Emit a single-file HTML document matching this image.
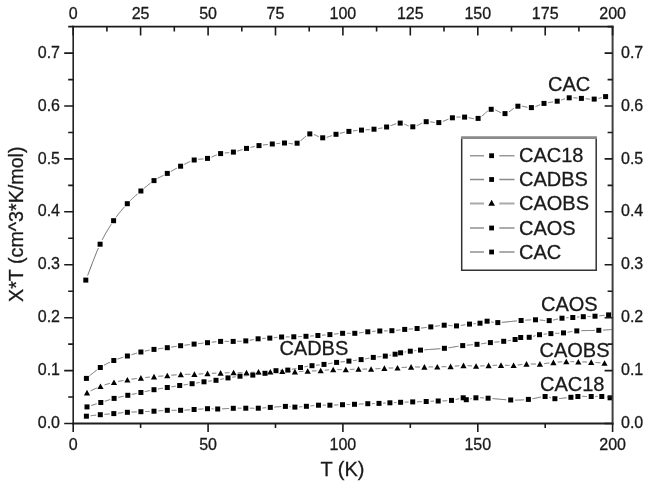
<!DOCTYPE html><html><head><meta charset="utf-8"><style>html,body{margin:0;padding:0;background:#fff;}svg{display:block;will-change:transform;}text{font-family:"Liberation Sans",sans-serif;fill:#1a1a1a;stroke:#1a1a1a;stroke-width:0.3px;}</style></head><body>
<svg width="650" height="488" viewBox="0 0 650 488">
<rect x="0" y="0" width="650" height="488" fill="#fff"/>
<g fill="none" stroke="#626262" stroke-width="1">
<path d="M87.6 275.5L88.0 274.6L88.3 273.7L88.7 272.7L89.0 271.8L89.4 270.8L89.8 269.9L90.1 268.9L90.5 268.0L90.8 267.0L91.2 266.1L91.6 265.1L91.9 264.2L92.3 263.3L92.6 262.3L93.0 261.4L93.4 260.4L93.7 259.5L94.1 258.6L94.4 257.7L94.8 256.8L95.2 255.8L95.5 254.9L95.9 254.1L96.2 253.2L96.6 252.3L96.9 251.4L97.3 250.6L97.6 249.7L98.0 248.9L98.4 248.1M102.2 239.9L102.5 239.3L102.8 238.6L103.2 237.9L103.5 237.3L103.9 236.7L104.2 236.0L104.5 235.4L104.9 234.8L105.2 234.2L105.5 233.6L105.9 233.0L106.2 232.4L106.6 231.8L106.9 231.3L107.2 230.7L107.6 230.1L107.9 229.6L108.2 229.0L108.6 228.5L108.9 228.0L109.2 227.4L109.6 226.9L109.9 226.4L110.2 225.8L110.6 225.3L110.9 224.8L111.2 224.3M116.0 217.3L116.3 216.8L116.7 216.4L117.0 215.9L117.4 215.4L117.7 215.0L118.0 214.5L118.4 214.1L118.7 213.7L119.1 213.2L119.4 212.8L119.8 212.4L120.1 211.9L120.4 211.5L120.8 211.1L121.1 210.7L121.5 210.3L121.8 209.9L122.2 209.5L122.5 209.1L122.8 208.7L123.2 208.3L123.5 207.9L123.9 207.5L124.2 207.1L124.6 206.7M130.4 200.5L130.7 200.2L131.1 199.8L131.4 199.5L131.7 199.2L132.1 198.8L132.4 198.5L132.8 198.2L133.1 197.9L133.5 197.6L133.8 197.2L134.1 196.9L134.5 196.6L134.8 196.3L135.2 196.0L135.5 195.7L135.8 195.4L136.2 195.1L136.5 194.8L136.9 194.5L137.2 194.2L137.5 193.9M144.2 188.2L144.5 187.9L144.9 187.6L145.2 187.3L145.5 187.1L145.8 186.8L146.2 186.5L146.5 186.3L146.8 186.0L147.1 185.7L147.5 185.5L147.8 185.2L148.1 184.9L148.4 184.7L148.8 184.4L149.1 184.2L149.4 183.9L149.7 183.7L150.1 183.4L150.4 183.2L150.7 182.9M157.6 178.4L158.0 178.2L158.3 178.0L158.6 177.8L159.0 177.7L159.3 177.5L159.6 177.3L160.0 177.1L160.3 177.0L160.6 176.8L161.0 176.6L161.3 176.5L161.6 176.3L162.0 176.1L162.3 176.0L162.6 175.8L163.0 175.6L163.3 175.5L163.6 175.3M170.9 171.4L171.3 171.2L171.6 171.0L171.9 170.8L172.3 170.7L172.6 170.5L172.9 170.3L173.3 170.1L173.6 169.9L173.9 169.7L174.3 169.6L174.6 169.4L174.9 169.2L175.3 169.0L175.6 168.8L175.9 168.6L176.3 168.5L176.6 168.3L176.9 168.1M184.3 164.3L184.7 164.1L185.0 163.9L185.3 163.8L185.7 163.6L186.0 163.4L186.4 163.3L186.7 163.1L187.1 162.9L187.4 162.8L187.7 162.6L188.1 162.4L188.4 162.3L188.8 162.1L189.1 161.9L189.5 161.8L189.8 161.6L190.1 161.5M198.2 159.3L198.6 159.3L198.9 159.2L199.2 159.2L199.6 159.2L199.9 159.2L200.2 159.1L200.5 159.1L200.9 159.1L201.2 159.1L201.5 159.1L201.9 159.1L202.2 159.0L202.5 159.0L202.9 159.0L203.2 159.0L203.5 159.0M211.5 157.1L211.8 157.0L212.1 156.8L212.4 156.7L212.8 156.6L213.1 156.4L213.4 156.3L213.8 156.1L214.1 156.0L214.4 155.9L214.7 155.7L215.1 155.6L215.4 155.4L215.7 155.3L216.0 155.2L216.4 155.0L216.7 154.9M224.8 152.9L225.1 152.9L225.4 152.9L225.7 152.9L226.0 152.8L226.4 152.8L226.7 152.8L227.0 152.8L227.3 152.8L227.6 152.7L228.0 152.7L228.3 152.7L228.6 152.7L228.9 152.7L229.2 152.6M237.3 151.1L237.7 151.0L238.0 150.9L238.3 150.8L238.6 150.7L239.0 150.6L239.3 150.5L239.6 150.4L240.0 150.3L240.3 150.2L240.6 150.1L241.0 150.0L241.3 149.9L241.6 149.8L241.9 149.7L242.3 149.6L242.6 149.5M250.6 147.4L250.9 147.3L251.2 147.2L251.5 147.2L251.8 147.1L252.1 147.0L252.4 146.9L252.7 146.9L253.0 146.8L253.4 146.7L253.7 146.7L254.0 146.6L254.3 146.5L254.6 146.5L254.9 146.4M263.0 145.0L263.3 145.0L263.6 144.9L264.0 144.9L264.3 144.8L264.7 144.8L265.0 144.8L265.3 144.7L265.7 144.7L266.0 144.6L266.3 144.6L266.7 144.6L267.0 144.5L267.4 144.5L267.7 144.5L268.0 144.4M276.3 143.6L276.6 143.6L276.9 143.5L277.2 143.5L277.5 143.5L277.8 143.4L278.1 143.4L278.4 143.4L278.7 143.4L279.0 143.3L279.3 143.3L279.6 143.3L279.9 143.3L280.2 143.2M288.6 143.3L288.9 143.4L289.2 143.4L289.5 143.4L289.8 143.5L290.1 143.5L290.5 143.6L290.8 143.6L291.1 143.7L291.4 143.7L291.7 143.7L292.0 143.7L292.4 143.8L292.7 143.8L293.0 143.8M300.6 141.0L300.9 140.7L301.2 140.4L301.5 140.1L301.8 139.8L302.2 139.5L302.5 139.2L302.8 138.9L303.1 138.6L303.4 138.3L303.7 138.0L304.1 137.7L304.4 137.4L304.7 137.1L305.0 136.8L305.3 136.6L305.7 136.3L306.0 136.0M314.0 134.5L314.3 134.6L314.6 134.7L314.9 134.9L315.2 135.0L315.6 135.2L315.9 135.3L316.2 135.5L316.5 135.7L316.9 135.8L317.2 136.0L317.5 136.1L317.8 136.3L318.1 136.5L318.5 136.6L318.8 136.8M326.7 137.3L327.0 137.2L327.3 137.1L327.7 137.0L328.0 136.9L328.3 136.8L328.7 136.7L329.0 136.6L329.3 136.5L329.7 136.4L330.0 136.2L330.4 136.1L330.7 136.0L331.0 135.9L331.4 135.8L331.7 135.7L332.0 135.5M339.9 133.3L340.2 133.3L340.6 133.2L340.9 133.1L341.2 133.0L341.5 132.9L341.8 132.9L342.2 132.8L342.5 132.7L342.8 132.6L343.1 132.6L343.5 132.5L343.8 132.4L344.1 132.3L344.4 132.3L344.7 132.2M353.0 130.8L353.3 130.8L353.7 130.8L354.0 130.7L354.3 130.7L354.6 130.7L354.9 130.7L355.2 130.6L355.5 130.6L355.9 130.6L356.2 130.5L356.5 130.5L356.8 130.5L357.1 130.5L357.4 130.4M365.6 129.8L365.9 129.8L366.2 129.8L366.5 129.8L366.8 129.8L367.1 129.7L367.4 129.7L367.7 129.7L368.1 129.7L368.4 129.7L368.7 129.7L369.0 129.6L369.3 129.6L369.6 129.6L369.9 129.6M378.1 128.6L378.4 128.6L378.7 128.5L379.0 128.5L379.3 128.4L379.6 128.4L379.9 128.3L380.2 128.3L380.5 128.2L380.9 128.2L381.2 128.1L381.5 128.1L381.8 128.0L382.1 127.9L382.4 127.9M390.6 125.7L391.0 125.6L391.3 125.5L391.7 125.3L392.0 125.2L392.4 125.1L392.7 124.9L393.1 124.8L393.4 124.7L393.7 124.6L394.1 124.4L394.4 124.3L394.8 124.2L395.1 124.1L395.5 124.0L395.8 123.9L396.2 123.8M404.3 124.1L404.7 124.2L405.0 124.3L405.3 124.5L405.6 124.6L405.9 124.7L406.2 124.9L406.5 125.0L406.8 125.2L407.1 125.3L407.4 125.5L407.8 125.6L408.1 125.7L408.4 125.9L408.7 126.0M416.8 125.7L417.1 125.6L417.5 125.4L417.8 125.3L418.1 125.1L418.5 124.9L418.8 124.8L419.2 124.6L419.5 124.4L419.8 124.3L420.2 124.1L420.5 123.9L420.9 123.7L421.2 123.6L421.5 123.4L421.9 123.2L422.2 123.1M430.3 121.8L430.6 121.8L430.9 121.8L431.2 121.9L431.6 122.0L431.9 122.0L432.2 122.1L432.5 122.1L432.8 122.2L433.1 122.2L433.4 122.3L433.7 122.4L434.0 122.4L434.3 122.5L434.7 122.5M442.9 121.4L443.2 121.3L443.5 121.2L443.9 121.0L444.2 120.9L444.6 120.7L444.9 120.6L445.3 120.5L445.6 120.3L446.0 120.1L446.3 120.0L446.7 119.8L447.0 119.7L447.4 119.6L447.7 119.4L448.0 119.3L448.4 119.1M456.4 117.2L456.7 117.2L457.0 117.1L457.3 117.1L457.6 117.1L457.9 117.1L458.2 117.1L458.5 117.1L458.8 117.1L459.1 117.1L459.4 117.0L459.7 117.0L460.0 117.0L460.3 117.0L460.6 117.0M468.6 117.7L468.9 117.7L469.2 117.8L469.6 117.9L469.9 118.0L470.3 118.1L470.6 118.1L471.0 118.2L471.3 118.3L471.6 118.3L472.0 118.4L472.3 118.5L472.7 118.5L473.0 118.6L473.4 118.6L473.7 118.7L474.0 118.7M481.7 116.3L482.0 116.0L482.4 115.7L482.7 115.5L483.0 115.2L483.3 114.9L483.7 114.6L484.0 114.3L484.3 114.0L484.6 113.7L485.0 113.4L485.3 113.1L485.6 112.8L485.9 112.5L486.3 112.2L486.6 111.9L486.9 111.6L487.2 111.4L487.6 111.1M495.3 110.0L495.7 110.1L496.0 110.3L496.4 110.4L496.7 110.6L497.1 110.8L497.4 111.0L497.8 111.2L498.1 111.3L498.5 111.5L498.8 111.7L499.2 111.9L499.5 112.1L499.9 112.3L500.2 112.4L500.6 112.6L500.9 112.7M508.9 112.0L509.2 111.7L509.6 111.5L509.9 111.3L510.2 111.1L510.5 110.8L510.8 110.6L511.2 110.3L511.5 110.1L511.8 109.8L512.1 109.6L512.4 109.3L512.7 109.1L513.1 108.8L513.4 108.6L513.7 108.4L514.0 108.1M521.9 106.1L522.3 106.2L522.6 106.3L523.0 106.3L523.3 106.4L523.6 106.5L524.0 106.5L524.3 106.6L524.7 106.7L525.0 106.8L525.4 106.9L525.7 106.9L526.0 107.0L526.4 107.1L526.7 107.2L527.1 107.2L527.4 107.3M535.5 106.6L535.9 106.5L536.2 106.3L536.5 106.2L536.8 106.1L537.1 106.0L537.4 105.9L537.7 105.7L538.0 105.6L538.3 105.5L538.6 105.3L539.0 105.2L539.3 105.1L539.6 104.9L539.9 104.8L540.2 104.7M548.0 102.6L548.3 102.6L548.6 102.5L549.0 102.5L549.3 102.4L549.6 102.4L550.0 102.3L550.3 102.3L550.6 102.3L551.0 102.2L551.3 102.2L551.6 102.1L552.0 102.1L552.3 102.0L552.6 102.0L553.0 101.9M561.2 100.0L561.5 99.9L561.8 99.8L562.1 99.7L562.4 99.6L562.7 99.5L563.0 99.4L563.3 99.3L563.6 99.2L563.9 99.1L564.1 99.0L564.4 98.9L564.7 98.8L565.0 98.7M573.4 97.7L573.7 97.7L574.0 97.7L574.3 97.8L574.6 97.8L574.9 97.8L575.2 97.8L575.6 97.9L575.9 97.9L576.2 97.9L576.5 98.0L576.8 98.0L577.1 98.0L577.4 98.1M585.6 98.7L585.9 98.8L586.2 98.8L586.5 98.8L586.9 98.9L587.2 98.9L587.5 98.9L587.9 98.9L588.2 99.0L588.5 99.0L588.8 99.0L589.2 99.0L589.5 99.1L589.8 99.1L590.1 99.1M598.3 98.5L598.6 98.4L598.9 98.3L599.1 98.3L599.4 98.2L599.7 98.1L600.0 98.0L600.3 98.0L600.5 97.9L600.8 97.8L601.1 97.8L601.4 97.7L601.7 97.6"/>
<path d="M89.5 375.9L89.9 375.6L90.2 375.3L90.6 375.0L90.9 374.7L91.3 374.4L91.6 374.1L92.0 373.9L92.3 373.6L92.7 373.3L93.0 373.0L93.4 372.7L93.7 372.4L94.1 372.1L94.4 371.9L94.8 371.6L95.1 371.3L95.5 371.0L95.8 370.8L96.2 370.5L96.5 370.2L96.9 370.0M104.0 365.2L104.4 365.0L104.7 364.8L105.1 364.7L105.4 364.5L105.7 364.3L106.1 364.1L106.4 363.9L106.7 363.8L107.1 363.6L107.4 363.4L107.7 363.3L108.1 363.1L108.4 362.9L108.7 362.8L109.1 362.6L109.4 362.5L109.8 362.3L110.1 362.1M117.5 359.1L117.9 359.0L118.2 358.8L118.6 358.7L118.9 358.6L119.2 358.5L119.6 358.4L119.9 358.3L120.3 358.2L120.6 358.1L120.9 358.0L121.3 357.9L121.6 357.7L122.0 357.6L122.3 357.5L122.6 357.4L123.0 357.3L123.3 357.2M131.5 354.7L131.8 354.6L132.1 354.5L132.5 354.4L132.8 354.3L133.2 354.2L133.5 354.1L133.8 354.0L134.2 353.9L134.5 353.8L134.9 353.7L135.2 353.6L135.5 353.5L135.9 353.4L136.2 353.3L136.5 353.2L136.9 353.1M144.9 351.1L145.2 351.0L145.5 351.0L145.8 350.9L146.2 350.8L146.5 350.7L146.8 350.7L147.1 350.6L147.5 350.6L147.8 350.5L148.1 350.4L148.4 350.4L148.8 350.3L149.1 350.2L149.4 350.2L149.7 350.1M158.0 348.8L158.3 348.8L158.6 348.8L159.0 348.7L159.3 348.7L159.6 348.6L160.0 348.6L160.3 348.6L160.6 348.5L161.0 348.5L161.3 348.4L161.6 348.4L162.0 348.4L162.3 348.3L162.6 348.3L163.0 348.2L163.3 348.2M171.3 347.1L171.6 347.1L171.9 347.0L172.3 347.0L172.6 346.9L172.9 346.9L173.3 346.8L173.6 346.7L173.9 346.7L174.3 346.6L174.6 346.6L174.9 346.5L175.3 346.5L175.6 346.4L175.9 346.4L176.3 346.3L176.6 346.3M184.6 345.2L185.0 345.1L185.3 345.1L185.7 345.1L186.0 345.0L186.3 345.0L186.7 344.9L187.0 344.9L187.3 344.9L187.7 344.8L188.0 344.8L188.4 344.7L188.7 344.7L189.0 344.7L189.4 344.6L189.7 344.6L190.1 344.6M198.1 343.7L198.5 343.6L198.8 343.6L199.1 343.6L199.5 343.5L199.8 343.5L200.2 343.5L200.5 343.4L200.8 343.4L201.2 343.3L201.5 343.3L201.8 343.3L202.2 343.2L202.5 343.2L202.8 343.2L203.2 343.1L203.5 343.1M211.8 342.2L212.1 342.2L212.5 342.1L212.8 342.1L213.1 342.1L213.4 342.0L213.8 342.0L214.1 342.0L214.4 341.9L214.8 341.9L215.1 341.9L215.4 341.8L215.7 341.8L216.1 341.8L216.4 341.7M224.7 341.3L225.0 341.3L225.4 341.3L225.7 341.3L226.0 341.3L226.3 341.3L226.6 341.3L226.9 341.3L227.2 341.4L227.6 341.4L227.9 341.4L228.2 341.4L228.5 341.4L228.8 341.4L229.1 341.4M237.3 341.3L237.6 341.3L237.9 341.3L238.3 341.3L238.6 341.3L238.9 341.3L239.2 341.3L239.5 341.3L239.8 341.3L240.2 341.3L240.5 341.3L240.8 341.2L241.1 341.2L241.4 341.2L241.7 341.2M249.8 340.3L250.2 340.2L250.5 340.2L250.8 340.1L251.1 340.0L251.4 340.0L251.7 339.9L252.0 339.9L252.3 339.8L252.6 339.7L252.9 339.7L253.2 339.6L253.5 339.6L253.9 339.5M262.2 338.5L262.5 338.5L262.8 338.4L263.1 338.4L263.4 338.4L263.7 338.4L264.0 338.4L264.3 338.4L264.6 338.4L264.9 338.4L265.1 338.3L265.4 338.3L265.7 338.3M273.9 337.7L274.2 337.7L274.5 337.6L274.8 337.6L275.1 337.6L275.4 337.6L275.7 337.5L276.0 337.5L276.3 337.5L276.6 337.4L276.8 337.4L277.1 337.4L277.4 337.3M285.8 336.9L286.1 336.9L286.5 336.9L286.8 336.9L287.1 336.9L287.4 336.9L287.7 336.9L288.0 336.9L288.3 336.9L288.6 336.9L288.9 336.9L289.2 336.9L289.5 336.9M298.1 336.7L298.4 336.6L298.7 336.6L299.0 336.6L299.3 336.6L299.6 336.6L299.9 336.6L300.2 336.6L300.5 336.6L300.8 336.5L301.1 336.5L301.4 336.5L301.8 336.5M310.2 336.0L310.5 336.0L310.8 336.0L311.1 336.0L311.4 336.0L311.7 335.9L312.0 335.9L312.3 335.9L312.6 335.9L312.9 335.9L313.1 335.8L313.4 335.8L313.7 335.8M322.1 335.2L322.4 335.2L322.7 335.2L323.0 335.1L323.3 335.1L323.6 335.1L323.9 335.1L324.1 335.1L324.4 335.0L324.7 335.0L325.0 335.0L325.3 335.0L325.6 334.9M334.0 334.2L334.3 334.1L334.6 334.1L335.0 334.0L335.3 334.0L335.6 334.0L335.9 333.9L336.2 333.9L336.6 333.9L336.9 333.8L337.2 333.8L337.5 333.7L337.8 333.7L338.2 333.7L338.5 333.6M346.9 333.3L347.2 333.3L347.5 333.3L347.8 333.3L348.1 333.3L348.4 333.3L348.7 333.3L349.0 333.3L349.3 333.3L349.6 333.3L349.9 333.3L350.2 333.4L350.5 333.4L350.8 333.4M359.0 332.9L359.3 332.9L359.7 332.8L360.0 332.8L360.3 332.7L360.7 332.7L361.0 332.6L361.3 332.6L361.6 332.6L362.0 332.5L362.3 332.5L362.6 332.4L363.0 332.4L363.3 332.3L363.6 332.3M372.1 331.4L372.4 331.4L372.7 331.4L373.0 331.4L373.3 331.4L373.6 331.3L373.9 331.3L374.2 331.3L374.4 331.3L374.7 331.3L375.0 331.3L375.3 331.2L375.6 331.2M384.0 330.9L384.3 330.9L384.6 330.9L384.9 330.9L385.2 330.9L385.5 330.9L385.8 330.9L386.1 330.9L386.4 330.9L386.7 330.9L387.0 330.9L387.3 330.9L387.6 330.9M396.0 330.3L396.3 330.3L396.7 330.3L397.0 330.2L397.3 330.2L397.6 330.2L398.0 330.1L398.3 330.1L398.6 330.1L398.9 330.0L399.3 330.0L399.6 329.9L399.9 329.9L400.2 329.9L400.5 329.8M408.7 329.1L409.0 329.1L409.3 329.1L409.6 329.0L409.9 329.0L410.2 329.0L410.5 329.0L410.8 329.0L411.1 328.9L411.5 328.9L411.8 328.9L412.1 328.9L412.4 328.9L412.7 328.9L413.0 328.8M421.1 328.1L421.5 328.0L421.8 328.0L422.2 328.0L422.5 327.9L422.8 327.9L423.2 327.8L423.5 327.8L423.9 327.8L424.2 327.7L424.6 327.7L424.9 327.6L425.3 327.6L425.6 327.5L426.0 327.5L426.3 327.5L426.7 327.4M434.9 326.3L435.2 326.3L435.6 326.2L435.9 326.2L436.2 326.1L436.6 326.1L436.9 326.0L437.2 326.0L437.6 325.9L437.9 325.9L438.3 325.8L438.6 325.8L438.9 325.7L439.3 325.7L439.6 325.6L439.9 325.6M448.3 325.3L448.6 325.4L448.9 325.4L449.2 325.4L449.5 325.5L449.8 325.5L450.1 325.5L450.4 325.6L450.7 325.6L451.0 325.6L451.3 325.7L451.6 325.7L451.9 325.7L452.2 325.7L452.5 325.8M460.8 325.5L461.1 325.4L461.4 325.4L461.8 325.3L462.1 325.3L462.4 325.2L462.8 325.2L463.1 325.1L463.4 325.0L463.8 325.0L464.1 324.9L464.4 324.9L464.8 324.8L465.1 324.8L465.4 324.7M473.5 323.8L473.8 323.7L474.0 323.7L474.3 323.7L474.6 323.7L474.9 323.7L475.1 323.7L475.4 323.6L475.6 323.6L475.9 323.6M491.2 321.8L491.4 321.9L491.7 322.0L491.9 322.0L492.2 322.1L492.4 322.1L492.7 322.2L493.0 322.2L493.3 322.3L493.6 322.3M501.8 322.4L502.4 322.3L502.9 322.3L503.5 322.2L504.1 322.2L504.8 322.1L505.4 322.1L506.0 322.0L506.6 321.9L507.3 321.9L507.9 321.8L508.6 321.7L509.2 321.7L509.9 321.6L510.5 321.5L511.2 321.5L511.8 321.4L512.5 321.3L513.1 321.3L513.7 321.2L514.4 321.1L515.0 321.1L515.6 321.0L516.2 320.9L516.8 320.9M525.3 320.2L525.7 320.2L526.1 320.1L526.5 320.1L526.8 320.1L527.2 320.1L527.5 320.0L527.9 320.0L528.2 320.0L528.6 320.0L528.9 320.0L529.2 320.0L529.6 319.9L529.9 319.9L530.2 319.9L530.5 319.9L530.9 319.9L531.2 319.9M539.7 320.0L540.0 320.1L540.4 320.1L540.7 320.1L541.1 320.2L541.4 320.2L541.8 320.2L542.1 320.3L542.4 320.3L542.8 320.3L543.1 320.4L543.5 320.4L543.8 320.4L544.2 320.5L544.5 320.5L544.8 320.5L545.2 320.5M553.2 320.1L553.5 320.0L553.8 319.9L554.2 319.9L554.5 319.8L554.8 319.7L555.1 319.6L555.5 319.6L555.8 319.5L556.1 319.4L556.4 319.3L556.7 319.3L557.1 319.2L557.4 319.1L557.7 319.0L558.0 319.0M566.2 317.8L566.5 317.8L566.7 317.8L567.0 317.8L567.3 317.8L567.5 317.7L567.8 317.7L568.1 317.7L568.3 317.7L568.6 317.7M577.0 317.2L577.2 317.2L577.5 317.1L577.7 317.1L578.0 317.1L578.3 317.1L578.5 317.0L578.8 317.0L579.0 317.0L579.3 317.0M587.5 316.5L587.8 316.5L588.1 316.5L588.4 316.5L588.7 316.5L589.0 316.5L589.2 316.5L589.5 316.5L589.8 316.5L590.1 316.4L590.4 316.4L590.7 316.4M599.3 315.8L599.6 315.8L600.0 315.8L600.3 315.7L600.6 315.7L601.0 315.7L601.3 315.6L601.7 315.6L602.0 315.6L602.4 315.5L602.7 315.5L603.1 315.5L603.4 315.4L603.8 315.4L604.1 315.4L604.5 315.3"/>
<path d="M90.7 390.9L91.0 390.7L91.4 390.5L91.7 390.4L92.1 390.2L92.4 390.0L92.7 389.9L93.1 389.7L93.4 389.5L93.8 389.3L94.1 389.2L94.4 389.0L94.8 388.8L95.1 388.7L95.4 388.5L95.8 388.4L96.1 388.2L96.5 388.0L96.8 387.9M104.6 384.9L104.9 384.8L105.2 384.7L105.6 384.6L105.9 384.5L106.2 384.4L106.6 384.3L106.9 384.2L107.3 384.1L107.6 384.0L107.9 383.9L108.3 383.8L108.6 383.7L108.9 383.7L109.3 383.6L109.6 383.5L110.0 383.4M118.0 381.5L118.4 381.4L118.7 381.4L119.0 381.3L119.4 381.2L119.7 381.2L120.0 381.1L120.4 381.0L120.7 381.0L121.0 380.9L121.4 380.8L121.7 380.8L122.0 380.7L122.4 380.7L122.7 380.6L123.0 380.5L123.4 380.5M131.5 379.2L131.8 379.1L132.1 379.1L132.5 379.0L132.8 379.0L133.2 379.0L133.5 378.9L133.8 378.9L134.2 378.8L134.5 378.8L134.8 378.7L135.2 378.7L135.5 378.6L135.9 378.6L136.2 378.6L136.5 378.5L136.9 378.5M145.2 377.5L145.5 377.5L145.8 377.5L146.2 377.4L146.5 377.4L146.8 377.4L147.1 377.3L147.5 377.3L147.8 377.3L148.1 377.2L148.4 377.2L148.8 377.2L149.1 377.2L149.4 377.1L149.7 377.1M158.3 376.3L158.6 376.3L159.0 376.3L159.3 376.2L159.6 376.2L160.0 376.2L160.3 376.2L160.6 376.1L161.0 376.1L161.3 376.1L161.6 376.1L162.0 376.0L162.3 376.0L162.6 376.0L163.0 376.0L163.3 375.9M171.3 375.2L171.7 375.2L172.0 375.2L172.3 375.2L172.7 375.1L173.0 375.1L173.4 375.1L173.7 375.0L174.0 375.0L174.4 375.0L174.7 374.9L175.0 374.9L175.4 374.9L175.7 374.9L176.1 374.8L176.4 374.8L176.7 374.8M184.9 374.4L185.2 374.4L185.6 374.4L185.9 374.3L186.3 374.3L186.6 374.3L186.9 374.3L187.3 374.3L187.6 374.3L188.0 374.3L188.3 374.3L188.6 374.3L189.0 374.3L189.3 374.3L189.7 374.3L190.0 374.3L190.4 374.3M198.7 374.0L199.0 374.0L199.3 374.0L199.7 373.9L200.0 373.9L200.3 373.9L200.7 373.9L201.0 373.9L201.3 373.8L201.6 373.8L202.0 373.8L202.3 373.8L202.6 373.8L202.9 373.7L203.3 373.7M211.8 373.3L212.1 373.3L212.4 373.3L212.7 373.3L213.1 373.3L213.4 373.3L213.7 373.2L214.1 373.2L214.4 373.2L214.7 373.2L215.0 373.2L215.4 373.2L215.7 373.2L216.0 373.2L216.3 373.1M224.8 372.8L225.2 372.8L225.5 372.8L225.8 372.8L226.1 372.8L226.5 372.8L226.8 372.8L227.1 372.8L227.4 372.8L227.8 372.7L228.1 372.7L228.4 372.7L228.7 372.7L229.1 372.7L229.4 372.7M237.8 372.6L238.2 372.6L238.5 372.6L238.8 372.6L239.1 372.6L239.5 372.6L239.8 372.6L240.1 372.6L240.4 372.6L240.8 372.6L241.1 372.6L241.4 372.6L241.7 372.6L242.1 372.6L242.4 372.6M250.8 372.4L251.1 372.4L251.4 372.3L251.7 372.3L252.0 372.3L252.3 372.3L252.6 372.3L252.9 372.2L253.2 372.2L253.5 372.2L253.8 372.2L254.1 372.1L254.4 372.1M262.6 371.9L262.9 371.9L263.2 371.9L263.5 371.9L263.8 371.9L264.1 371.9L264.4 371.9L264.7 371.9L265.0 371.9L265.3 371.9L265.6 371.9L265.9 371.9L266.2 371.9M274.5 371.7L274.8 371.7L275.1 371.7L275.4 371.6L275.7 371.6L276.0 371.6L276.2 371.6L276.5 371.6L276.8 371.5L277.1 371.5L277.4 371.5L277.7 371.5L278.0 371.5M286.3 371.4L286.7 371.4L287.0 371.4L287.3 371.4L287.6 371.5L287.9 371.5L288.2 371.5L288.6 371.5L288.9 371.5L289.2 371.5L289.5 371.5L289.8 371.6L290.1 371.6L290.5 371.6L290.8 371.6M299.0 371.6L299.4 371.6L299.7 371.5L300.0 371.5L300.3 371.5L300.6 371.5L301.0 371.5L301.3 371.5L301.6 371.4L301.9 371.4L302.2 371.4L302.6 371.4L302.9 371.4L303.2 371.3L303.5 371.3M311.9 370.9L312.3 370.9L312.6 370.9L312.9 370.9L313.2 370.9L313.6 370.9L313.9 370.9L314.2 370.9L314.5 370.9L314.9 370.9L315.2 370.8L315.5 370.8L315.9 370.8L316.2 370.8L316.5 370.8M324.8 370.3L325.1 370.2L325.4 370.2L325.7 370.2L326.0 370.2L326.4 370.1L326.7 370.1L327.0 370.1L327.3 370.0L327.6 370.0L327.9 370.0L328.2 370.0L328.5 369.9L328.8 369.9L329.1 369.9M337.3 369.5L337.6 369.5L337.9 369.5L338.2 369.6L338.5 369.6L338.9 369.6L339.2 369.6L339.5 369.6L339.8 369.6L340.1 369.6L340.4 369.6L340.7 369.6L341.1 369.6L341.4 369.6L341.7 369.6M349.9 369.5L350.2 369.4L350.6 369.4L350.9 369.4L351.2 369.4L351.5 369.4L351.8 369.4L352.2 369.4L352.5 369.3L352.8 369.3L353.1 369.3L353.4 369.3L353.7 369.3L354.1 369.3L354.4 369.2M362.6 369.1L362.9 369.1L363.2 369.1L363.5 369.1L363.8 369.1L364.1 369.1L364.5 369.1L364.8 369.1L365.1 369.1L365.4 369.1L365.7 369.1L366.0 369.1L366.3 369.1L366.6 369.1L367.0 369.1M375.4 368.9L375.7 368.8L376.0 368.8L376.4 368.8L376.7 368.8L377.0 368.7L377.4 368.7L377.7 368.7L378.1 368.6L378.4 368.6L378.7 368.6L379.1 368.6L379.4 368.5L379.7 368.5L380.1 368.5L380.4 368.5M388.7 368.0L389.0 368.0L389.3 368.0L389.6 368.0L390.0 368.0L390.3 368.0L390.6 368.0L390.9 368.0L391.3 368.0L391.6 368.0L391.9 368.0L392.2 368.0L392.6 368.0L392.9 367.9L393.2 367.9M401.6 367.6L401.9 367.5L402.2 367.5L402.6 367.5L402.9 367.5L403.3 367.4L403.6 367.4L403.9 367.4L404.3 367.4L404.6 367.4L405.0 367.3L405.3 367.3L405.7 367.3L406.0 367.3L406.3 367.2L406.7 367.2L407.0 367.2M415.1 366.9L415.5 366.9L415.8 366.9L416.1 367.0L416.5 367.0L416.8 367.0L417.1 367.0L417.5 367.0L417.8 367.0L418.1 367.0L418.5 367.0L418.8 367.0L419.1 367.0L419.5 367.0L419.8 367.0L420.1 367.0M428.6 367.0L428.9 366.9L429.2 366.9L429.6 366.9L429.9 366.9L430.2 366.9L430.5 366.9L430.9 366.9L431.2 366.9L431.5 366.9L431.8 366.9L432.1 366.9L432.5 366.9L432.8 366.9L433.1 366.9M441.6 366.7L441.9 366.7L442.3 366.7L442.6 366.7L442.9 366.7L443.3 366.7L443.6 366.7L443.9 366.7L444.3 366.7L444.6 366.7L445.0 366.7L445.3 366.7L445.6 366.7L446.0 366.7L446.3 366.7M454.8 366.2L455.2 366.1L455.5 366.1L455.8 366.1L456.1 366.0L456.4 366.0L456.8 366.0L457.1 365.9L457.4 365.9L457.7 365.9L458.1 365.8L458.4 365.8L458.7 365.8L459.0 365.8L459.3 365.7M467.6 365.6L467.9 365.6L468.3 365.7L468.6 365.7L468.9 365.7L469.2 365.7L469.5 365.8L469.8 365.8L470.1 365.8L470.5 365.8L470.8 365.8L471.1 365.9L471.4 365.9L471.7 365.9L472.0 365.9M480.2 366.0L480.5 366.0L480.8 365.9L481.1 365.9L481.4 365.9L481.7 365.9L482.0 365.9L482.4 365.9L482.7 365.8L483.0 365.8L483.3 365.8L483.6 365.8L483.9 365.8L484.2 365.7L484.5 365.7M492.6 365.4L492.9 365.4L493.2 365.3L493.6 365.3L493.9 365.3L494.2 365.3L494.5 365.3L494.8 365.3L495.1 365.3L495.4 365.3L495.7 365.3L496.0 365.3L496.3 365.3L496.6 365.3L497.0 365.2M505.1 365.3L505.4 365.3L505.7 365.3L506.0 365.3L506.3 365.3L506.6 365.3L507.0 365.4L507.3 365.4L507.6 365.4L507.9 365.4L508.2 365.4L508.5 365.4L508.8 365.4L509.2 365.4L509.5 365.4M517.8 365.0L518.1 365.0L518.4 364.9L518.7 364.9L519.0 364.8L519.4 364.8L519.7 364.8L520.0 364.7L520.3 364.7L520.6 364.6L521.0 364.6L521.3 364.5L521.6 364.5L521.9 364.5L522.3 364.4M530.8 363.9L531.1 364.0L531.5 364.0L531.8 364.0L532.2 364.0L532.5 364.0L532.8 364.0L533.2 364.0L533.5 364.0L533.8 364.0L534.2 364.0L534.5 364.0L534.8 364.0L535.2 364.1L535.5 364.1L535.9 364.1M544.0 363.6L544.3 363.6L544.6 363.6L545.0 363.5L545.3 363.5L545.7 363.4L546.0 363.4L546.3 363.4L546.7 363.3L547.0 363.3L547.4 363.2L547.7 363.2L548.0 363.1L548.4 363.1L548.7 363.0L549.1 363.0L549.4 363.0M557.7 362.1L558.0 362.1L558.3 362.1L558.6 362.0L559.0 362.0L559.3 362.0L559.6 362.0L559.9 361.9L560.3 361.9L560.6 361.9L560.9 361.9L561.2 361.9L561.6 361.8L561.9 361.8L562.2 361.8M570.5 361.6L570.8 361.6L571.1 361.6L571.4 361.6L571.7 361.6L572.0 361.6L572.3 361.6L572.6 361.6L572.9 361.6L573.2 361.6L573.5 361.7L573.8 361.7L574.1 361.7M582.4 361.9L582.7 361.9L583.1 361.9L583.4 361.9L583.7 361.9L584.0 361.9L584.3 361.9L584.7 362.0L585.0 362.0L585.3 362.0L585.6 362.0L586.0 362.0L586.3 362.0L586.6 362.0L586.9 362.0M595.5 362.5L595.8 362.5L596.2 362.5L596.5 362.5L596.8 362.5L597.2 362.6L597.5 362.6L597.8 362.6L598.2 362.6L598.5 362.7L598.8 362.7L599.2 362.7L599.5 362.7L599.8 362.8L600.2 362.8L600.5 362.8"/>
<path d="M91.2 405.6L91.5 405.5L91.8 405.3L92.2 405.2L92.5 405.1L92.9 405.0L93.2 404.9L93.6 404.8L93.9 404.7L94.3 404.6L94.6 404.5L95.0 404.3L95.3 404.2L95.7 404.1L96.0 404.0L96.4 403.9L96.7 403.8M104.8 401.2L105.1 401.1L105.5 401.0L105.8 400.9L106.1 400.8L106.5 400.7L106.8 400.6L107.1 400.5L107.5 400.4L107.8 400.3L108.1 400.2L108.4 400.1L108.8 400.0L109.1 399.9L109.4 399.7L109.8 399.6L110.1 399.5M118.2 397.4L118.5 397.3L118.9 397.2L119.2 397.2L119.6 397.1L119.9 397.0L120.3 396.9L120.6 396.8L121.0 396.8L121.3 396.7L121.7 396.6L122.0 396.5L122.3 396.5L122.7 396.4L123.0 396.3L123.4 396.2L123.7 396.2M131.8 394.4L132.1 394.4L132.4 394.3L132.8 394.2L133.1 394.2L133.4 394.1L133.7 394.0L134.1 394.0L134.4 393.9L134.7 393.8L135.0 393.7L135.4 393.7L135.7 393.6L136.0 393.5L136.3 393.5L136.7 393.4M144.8 391.6L145.2 391.6L145.5 391.5L145.8 391.4L146.1 391.4L146.5 391.3L146.8 391.2L147.1 391.1L147.4 391.1L147.8 391.0L148.1 390.9L148.4 390.8L148.7 390.8L149.1 390.7L149.4 390.6L149.7 390.6L150.1 390.5M158.0 389.0L158.3 388.9L158.7 388.9L159.0 388.8L159.3 388.8L159.7 388.7L160.0 388.7L160.4 388.6L160.7 388.5L161.0 388.5L161.4 388.4L161.7 388.4L162.0 388.3L162.4 388.3L162.7 388.2L163.0 388.2M171.4 386.8L171.7 386.8L172.0 386.7L172.3 386.7L172.6 386.6L172.9 386.6L173.2 386.5L173.6 386.5L173.9 386.4L174.2 386.4L174.5 386.3L174.8 386.3L175.1 386.2L175.4 386.2L175.7 386.1M183.7 384.9L184.1 384.9L184.4 384.8L184.7 384.8L185.0 384.7L185.3 384.7L185.6 384.6L185.9 384.6L186.2 384.5L186.6 384.5L186.9 384.5L187.2 384.4L187.5 384.4L187.8 384.3L188.1 384.3M196.3 383.0L196.6 383.0L196.9 382.9L197.2 382.9L197.5 382.8L197.8 382.8L198.1 382.7L198.4 382.7L198.7 382.6L199.0 382.6L199.3 382.5L199.6 382.5L199.8 382.4M208.2 381.3L208.5 381.2L208.8 381.2L209.1 381.2L209.4 381.1L209.7 381.1L210.0 381.1L210.3 381.0L210.6 381.0L210.9 381.0L211.2 380.9L211.5 380.9L211.8 380.9M220.2 379.5L220.5 379.4L220.8 379.4L221.1 379.3L221.4 379.2L221.7 379.2L222.0 379.1L222.3 379.0L222.6 379.0L222.9 378.9L223.2 378.9L223.5 378.8L223.8 378.7M232.2 377.2L232.5 377.2L232.8 377.1L233.1 377.1L233.4 377.1L233.7 377.0L234.0 377.0L234.2 376.9L234.5 376.9L234.8 376.8L235.1 376.8L235.4 376.8L235.7 376.7M244.1 375.8L244.4 375.8L244.8 375.8L245.1 375.8L245.4 375.7L245.7 375.7L246.1 375.7L246.4 375.7L246.7 375.6L247.0 375.6L247.4 375.6L247.7 375.6L248.0 375.5L248.3 375.5L248.7 375.5M256.9 374.6L257.2 374.6L257.5 374.5L257.8 374.5L258.1 374.4L258.4 374.4L258.7 374.3L259.0 374.3L259.3 374.2L259.6 374.2L259.9 374.2L260.2 374.1L260.5 374.1L260.8 374.0M268.9 372.4L269.2 372.3L269.4 372.2L269.7 372.1L270.0 372.1L270.3 372.0L270.5 371.9L270.8 371.9L271.1 371.8L271.3 371.7L271.6 371.6L271.9 371.6M280.0 370.4L280.3 370.4L280.6 370.4L280.9 370.4L281.2 370.4L281.5 370.4L281.8 370.4L282.1 370.4L282.4 370.4L282.7 370.4L283.0 370.4L283.3 370.4L283.6 370.4M291.9 369.4L292.2 369.3L292.5 369.2L292.9 369.2L293.2 369.1L293.5 369.0L293.8 368.9L294.2 368.9L294.5 368.8L294.8 368.7L295.1 368.7L295.5 368.6L295.8 368.5L296.1 368.4L296.4 368.4M304.6 366.8L304.9 366.7L305.2 366.7L305.4 366.7L305.7 366.6L306.0 366.6L306.3 366.5L306.6 366.5L306.9 366.4L307.1 366.4L307.4 366.3L307.7 366.3L308.0 366.3M316.1 365.2L316.4 365.2L316.7 365.2L317.0 365.1L317.3 365.1L317.6 365.1L317.9 365.1L318.2 365.0L318.5 365.0L318.8 365.0L319.1 364.9L319.4 364.9L319.7 364.9M328.1 363.8L328.4 363.7L328.7 363.7L329.0 363.6L329.3 363.6L329.6 363.5L330.0 363.5L330.3 363.4L330.6 363.3L330.9 363.3L331.2 363.2L331.6 363.2L331.9 363.1L332.2 363.1L332.5 363.0M340.6 361.9L340.9 361.9L341.2 361.9L341.5 361.8L341.9 361.8L342.2 361.8L342.5 361.7L342.8 361.7L343.1 361.7L343.4 361.7L343.7 361.6L344.0 361.6L344.3 361.6L344.6 361.5L344.9 361.5M353.2 360.6L353.5 360.6L353.8 360.5L354.1 360.5L354.4 360.5L354.7 360.4L355.0 360.4L355.3 360.4L355.6 360.3L355.9 360.3L356.2 360.3L356.5 360.2L356.8 360.2M365.1 358.9L365.4 358.8L365.7 358.8L366.0 358.7L366.3 358.7L366.6 358.6L366.9 358.5L367.2 358.5L367.5 358.4L367.8 358.4L368.1 358.3L368.4 358.2L368.7 358.2L369.0 358.1L369.3 358.1M377.3 356.9L377.6 356.9L377.9 356.9L378.2 356.8L378.5 356.8L378.8 356.8L379.1 356.8L379.5 356.7L379.8 356.7L380.1 356.7L380.4 356.6L380.7 356.6L381.0 356.6L381.3 356.6M389.3 355.4L389.6 355.4L389.8 355.3L390.1 355.3L390.4 355.2L390.6 355.2L390.9 355.1L391.1 355.1M404.7 352.1L404.9 352.0L405.2 352.0L405.4 351.9L405.7 351.9L405.9 351.9L406.2 351.8M414.3 350.7L414.5 350.7L414.7 350.6L414.9 350.6L415.2 350.6L415.4 350.6L415.6 350.5L415.9 350.5L416.2 350.5L416.4 350.5M424.5 349.8L425.1 349.8L425.6 349.7L426.2 349.7L426.8 349.6L427.5 349.6L428.1 349.6L428.7 349.5L429.3 349.5L430.0 349.4L430.6 349.4L431.3 349.3L431.9 349.3L432.6 349.3L433.3 349.2L433.9 349.2L434.6 349.1L435.2 349.1L435.9 349.0L436.6 349.0L437.2 348.9L437.9 348.9L438.5 348.8L439.1 348.8L439.8 348.7L440.4 348.7M448.5 347.8L449.0 347.7L449.5 347.7L449.9 347.6L450.4 347.5L450.9 347.4L451.4 347.4L451.8 347.3L452.3 347.2L452.8 347.1L453.2 347.1L453.7 347.0L454.1 346.9L454.6 346.8L455.0 346.8L455.5 346.7L455.9 346.6L456.4 346.5L456.8 346.5L457.2 346.4L457.7 346.3L458.1 346.3L458.5 346.2M466.9 345.2L467.3 345.1L467.7 345.1L468.0 345.1L468.4 345.0L468.8 345.0L469.1 345.0L469.5 344.9L469.8 344.9L470.2 344.9L470.5 344.9L470.8 344.8L471.2 344.8L471.5 344.8L471.9 344.8L472.2 344.7L472.6 344.7L472.9 344.7M481.1 343.8L481.4 343.8L481.8 343.7L482.1 343.7L482.4 343.6L482.8 343.6L483.1 343.5L483.4 343.5L483.8 343.5L484.1 343.4L484.4 343.4L484.8 343.3L485.1 343.3L485.4 343.2L485.8 343.2L486.1 343.1L486.4 343.1M494.5 342.2L494.8 342.2L495.1 342.1L495.5 342.1L495.8 342.1L496.2 342.0L496.5 342.0L496.8 342.0L497.2 342.0L497.5 341.9L497.8 341.9L498.2 341.9L498.5 341.8L498.9 341.8L499.2 341.8L499.5 341.7M507.8 340.8L508.1 340.7L508.4 340.7L508.7 340.6L509.0 340.6L509.3 340.5L509.6 340.5L509.9 340.4L510.2 340.4L510.5 340.4L510.8 340.3L511.0 340.3M524.9 337.4L525.1 337.5M533.1 336.4L533.4 336.3L533.7 336.2L533.9 336.1L534.2 336.1L534.4 336.0L534.7 335.9L535.0 335.8L535.2 335.7L535.5 335.7M543.6 334.2L543.9 334.1L544.2 334.1L544.5 334.1L544.8 334.1L545.1 334.0L545.3 334.0L545.6 334.0L545.9 334.0L546.2 333.9L546.5 333.9L546.8 333.9M555.2 333.4L555.5 333.4L555.8 333.4L556.1 333.3L556.4 333.3L556.8 333.3L557.1 333.3L557.4 333.3L557.7 333.3L558.0 333.3L558.4 333.3L558.7 333.2L559.0 333.2L559.3 333.2M567.5 332.3L567.8 332.2L568.1 332.2L568.4 332.1L568.7 332.1L569.0 332.0L569.3 332.0L569.6 331.9L569.9 331.8L570.2 331.8L570.5 331.7L570.8 331.7L571.1 331.6L571.5 331.5L571.8 331.5L572.1 331.4L572.5 331.4M581.3 330.7L581.9 330.7L582.5 330.6L583.0 330.6L583.6 330.6L584.2 330.6L584.8 330.6L585.4 330.6L586.0 330.6L586.6 330.5L587.2 330.5L587.8 330.5L588.4 330.5L589.0 330.5L589.6 330.5L590.2 330.5L590.8 330.5L591.4 330.5L592.0 330.5L592.5 330.5L593.1 330.4L593.7 330.4L594.2 330.4L594.8 330.4M603.1 330.1L603.5 330.1L603.8 330.1L604.2 330.0L604.5 330.0L604.8 330.0L605.2 330.0L605.5 330.0L605.8 329.9L606.1 329.9L606.4 329.9L606.7 329.9L607.1 329.9L607.4 329.8L607.7 329.8L608.0 329.8L608.3 329.8L608.6 329.7L608.9 329.7L609.2 329.7L609.5 329.7L609.8 329.7L610.1 329.6L610.4 329.6L610.8 329.6L611.1 329.6L611.4 329.6L611.7 329.5L612.1 329.5L612.4 329.5"/>
<path d="M90.6 415.7L90.9 415.7L91.3 415.7L91.6 415.6L92.0 415.6L92.3 415.5L92.7 415.5L93.0 415.5L93.4 415.4L93.7 415.4L94.1 415.3L94.4 415.3L94.8 415.3L95.1 415.2L95.5 415.2L95.8 415.2L96.2 415.1M104.4 414.3L104.7 414.3L105.1 414.3L105.4 414.3L105.7 414.2L106.1 414.2L106.4 414.2L106.7 414.2L107.1 414.1L107.4 414.1L107.7 414.1L108.1 414.1L108.4 414.0L108.7 414.0L109.1 414.0L109.4 414.0L109.8 413.9M117.9 413.2L118.2 413.2L118.6 413.1L118.9 413.1L119.2 413.1L119.6 413.0L119.9 413.0L120.3 413.0L120.6 412.9L120.9 412.9L121.3 412.8L121.6 412.8L122.0 412.8L122.3 412.7L122.6 412.7L123.0 412.7L123.3 412.6M131.5 412.1L131.8 412.0L132.1 412.0L132.5 412.0L132.8 412.0L133.2 412.0L133.5 412.0L133.8 412.0L134.2 412.0L134.5 411.9L134.9 411.9L135.2 411.9L135.5 411.9L135.9 411.9L136.2 411.9L136.5 411.9L136.9 411.9M145.2 411.5L145.5 411.5L145.8 411.5L146.2 411.5L146.5 411.5L146.8 411.5L147.1 411.5L147.5 411.5L147.8 411.5L148.1 411.4L148.4 411.4L148.8 411.4L149.1 411.4L149.4 411.4L149.7 411.4M158.3 410.9L158.6 410.9L159.0 410.9L159.3 410.8L159.6 410.8L160.0 410.8L160.3 410.7L160.6 410.7L161.0 410.7L161.3 410.7L161.6 410.6L162.0 410.6L162.3 410.6L162.6 410.6L163.0 410.5L163.3 410.5M171.6 410.3L171.9 410.3L172.3 410.3L172.6 410.3L172.9 410.3L173.3 410.3L173.6 410.3L173.9 410.3L174.3 410.3L174.6 410.3L174.9 410.3L175.3 410.3L175.6 410.3L175.9 410.3L176.3 410.3L176.6 410.3M184.6 410.1L185.0 410.1L185.3 410.1L185.7 410.1L186.0 410.0L186.3 410.0L186.7 410.0L187.0 410.0L187.3 410.0L187.7 409.9L188.0 409.9L188.4 409.9L188.7 409.9L189.0 409.8L189.4 409.8L189.7 409.8L190.1 409.8M198.2 409.2L198.6 409.2L198.9 409.2L199.3 409.2L199.6 409.1L200.0 409.1L200.3 409.1L200.7 409.1L201.0 409.0L201.4 409.0L201.7 409.0L202.0 409.0L202.4 408.9L202.7 408.9L203.1 408.9L203.4 408.9M211.6 408.8L211.8 408.8L212.0 408.8L212.2 408.8L212.5 408.8L212.7 408.9L212.9 408.9L213.2 408.9L213.4 408.9L213.6 408.9M222.1 408.8L222.5 408.8L222.9 408.8L223.3 408.8L223.7 408.8L224.1 408.7L224.5 408.7L224.9 408.7L225.4 408.7L225.8 408.7L226.2 408.6L226.6 408.6L227.0 408.6L227.4 408.6L227.9 408.5L228.3 408.5L228.7 408.5L229.1 408.5M237.6 408.2L237.9 408.2L238.2 408.2L238.5 408.2L238.8 408.2L239.1 408.2L239.4 408.2L239.7 408.2L240.0 408.2L240.3 408.2L240.6 408.2L240.9 408.2L241.2 408.2L241.5 408.2M249.9 408.2L250.2 408.2L250.5 408.2L250.8 408.2L251.1 408.2L251.5 408.2L251.8 408.2L252.1 408.2L252.4 408.2L252.7 408.2L253.0 408.3L253.3 408.3L253.6 408.3L254.0 408.3L254.3 408.3M262.4 408.0L262.7 408.0L263.0 407.9L263.3 407.9L263.6 407.9L263.8 407.9L264.1 407.9L264.4 407.8L264.7 407.8L265.0 407.8L265.3 407.8L265.6 407.7L265.9 407.7L266.2 407.7M274.4 407.1L274.8 407.1L275.2 407.0L275.6 407.0L276.0 407.0L276.4 406.9L276.8 406.9L277.2 406.9L277.6 406.8L278.0 406.8L278.4 406.8L278.8 406.7L279.2 406.7L279.6 406.7L280.0 406.7L280.4 406.6L280.8 406.6L281.2 406.6M289.5 406.6L289.7 406.7L289.9 406.7L290.2 406.7L290.4 406.7L290.6 406.8L290.8 406.8M299.0 406.9L299.3 406.9L299.6 406.9L299.9 406.9L300.2 406.8L300.5 406.8L300.8 406.8L301.1 406.8L301.4 406.7L301.7 406.7L302.0 406.7L302.3 406.7M310.6 405.9L310.9 405.9L311.2 405.8L311.5 405.8L311.8 405.8L312.1 405.7L312.5 405.7L312.8 405.7L313.1 405.6L313.4 405.6L313.7 405.6L314.0 405.5L314.3 405.5M322.8 405.1L323.1 405.1L323.3 405.1L323.6 405.2L323.9 405.2L324.2 405.2L324.4 405.2L324.7 405.2L325.0 405.2L325.3 405.2L325.6 405.2L325.8 405.2M333.9 405.1L334.2 405.1L334.6 405.0L334.9 405.0L335.2 405.0L335.5 405.0L335.8 405.0L336.2 405.0L336.5 405.0L336.8 404.9L337.1 404.9L337.4 404.9L337.8 404.9L338.1 404.9L338.4 404.9M346.7 404.6L347.0 404.6L347.3 404.5L347.6 404.5L347.9 404.5L348.2 404.5L348.5 404.5L348.8 404.5L349.0 404.5L349.3 404.5L349.6 404.5L349.9 404.5L350.2 404.5M358.8 404.1L359.1 404.1L359.5 404.1L359.8 404.1L360.2 404.0L360.5 404.0L360.9 404.0L361.2 404.0L361.5 404.0L361.9 404.0L362.2 403.9L362.6 403.9L362.9 403.9L363.2 403.9L363.6 403.9M371.9 403.6L372.2 403.6L372.4 403.6L372.7 403.6L373.0 403.6L373.3 403.6L373.6 403.5L373.8 403.5L374.1 403.5L374.4 403.5L374.6 403.5L374.9 403.5M383.1 403.2L383.4 403.2L383.7 403.2L383.9 403.1L384.2 403.1L384.5 403.1L384.8 403.1L385.0 403.1L385.3 403.1L385.6 403.0L385.8 403.0M394.1 402.6L394.4 402.6L394.7 402.6L394.9 402.6L395.2 402.5L395.4 402.5L395.7 402.5L396.0 402.5L396.2 402.5L396.5 402.5M404.7 402.2L405.0 402.1L405.3 402.1L405.6 402.1L405.9 402.1L406.2 402.1L406.5 402.1L406.8 402.1L407.1 402.1L407.4 402.1L407.7 402.1L408.0 402.0L408.3 402.0L408.6 402.0M417.0 401.8L417.4 401.8L417.7 401.8L418.1 401.7L418.4 401.7L418.8 401.7L419.1 401.7L419.5 401.7L419.8 401.7L420.1 401.7L420.5 401.7L420.8 401.7L421.2 401.7L421.5 401.6L421.9 401.6M430.5 401.3L430.8 401.3L431.0 401.3L431.3 401.3L431.6 401.3L431.9 401.3L432.2 401.3L432.5 401.2L432.8 401.2L433.1 401.2L433.4 401.2L433.7 401.2L434.0 401.2M442.5 400.9L442.8 400.9L443.2 400.9L443.5 400.9L443.8 400.9L444.2 400.8L444.5 400.8L444.9 400.8L445.2 400.8L445.6 400.8L445.9 400.8L446.2 400.8L446.6 400.8L446.9 400.8L447.2 400.7M455.7 399.5L456.1 399.5L456.4 399.4L456.7 399.3L457.0 399.2L457.4 399.1L457.7 399.0L458.0 398.9L458.3 398.9L458.6 398.8L458.9 398.7L459.2 398.6M470.3 398.9L470.5 398.8L470.8 398.8L471.0 398.7L471.3 398.6L471.6 398.6L471.8 398.5M480.1 397.7L480.4 397.7L480.6 397.7L480.9 397.8L481.2 397.8L481.5 397.8L481.8 397.8L482.0 397.8L482.3 397.8L482.6 397.8L483.0 397.9L483.3 397.9L483.6 397.9L483.9 397.9M492.6 398.6L493.1 398.6L493.7 398.7L494.3 398.7L494.8 398.8L495.4 398.8L496.0 398.9L496.6 398.9L497.2 399.0L497.8 399.0L498.4 399.1L499.1 399.2L499.7 399.2L500.3 399.3L500.9 399.3L501.5 399.4L502.1 399.4L502.7 399.5L503.3 399.5L504.0 399.6L504.6 399.6L505.2 399.7L505.7 399.7L506.3 399.8M515.0 400.1L515.5 400.1L515.9 400.1L516.4 400.1L516.9 400.1L517.3 400.1L517.7 400.1L518.2 400.0L518.6 400.0L519.1 400.0L519.5 400.0L519.9 400.0L520.3 400.0L520.8 400.0L521.2 399.9L521.6 399.9L522.1 399.9L522.5 399.9L522.9 399.9L523.3 399.8L523.7 399.8L524.2 399.8M532.4 398.8L532.8 398.7L533.3 398.6L533.7 398.5L534.1 398.4L534.6 398.4L535.0 398.3L535.5 398.2L535.9 398.1L536.4 398.0L536.8 397.9L537.2 397.8L537.7 397.7L538.1 397.6L538.5 397.5L539.0 397.4L539.4 397.3L539.8 397.2L540.2 397.1L540.6 397.1L541.0 397.0M549.2 397.2L549.4 397.3L549.6 397.3L549.8 397.4L550.0 397.5L550.2 397.6L550.5 397.7L550.7 397.8L550.9 397.8M559.1 398.6L559.5 398.5L560.0 398.5L560.4 398.5L560.8 398.4L561.3 398.4L561.7 398.3L562.2 398.3L562.6 398.2L563.1 398.2L563.5 398.1L564.0 398.1L564.4 398.0L564.9 398.0L565.3 397.9L565.7 397.9L566.1 397.8L566.6 397.8M582.2 396.4L582.5 396.4L582.9 396.4L583.3 396.4L583.6 396.4L584.0 396.4L584.3 396.4L584.7 396.5L585.0 396.5L585.4 396.5L585.8 396.5L586.1 396.5L586.5 396.5L586.9 396.5M595.2 396.4L595.5 396.4L595.7 396.4L596.0 396.4L596.3 396.4L596.5 396.4L596.8 396.4L597.1 396.4L597.3 396.4L597.6 396.4M605.9 397.0L606.1 397.1"/>
</g>
<g fill="#000">
<rect x="83.30" y="277.60" width="5.0" height="5.0"/><rect x="97.60" y="241.70" width="5.0" height="5.0"/><rect x="111.10" y="218.20" width="5.0" height="5.0"/><rect x="124.80" y="201.20" width="5.0" height="5.0"/><rect x="138.40" y="188.50" width="5.0" height="5.0"/><rect x="151.50" y="178.10" width="5.0" height="5.0"/><rect x="164.80" y="170.90" width="5.0" height="5.0"/><rect x="178.10" y="163.70" width="5.0" height="5.0"/><rect x="191.70" y="157.50" width="5.0" height="5.0"/><rect x="205.00" y="155.90" width="5.0" height="5.0"/><rect x="218.10" y="151.10" width="5.0" height="5.0"/><rect x="230.90" y="149.60" width="5.0" height="5.0"/><rect x="244.00" y="145.90" width="5.0" height="5.0"/><rect x="256.50" y="143.10" width="5.0" height="5.0"/><rect x="269.80" y="141.50" width="5.0" height="5.0"/><rect x="282.00" y="140.50" width="5.0" height="5.0"/><rect x="294.60" y="140.70" width="5.0" height="5.0"/><rect x="307.30" y="131.40" width="5.0" height="5.0"/><rect x="320.20" y="135.30" width="5.0" height="5.0"/><rect x="333.50" y="131.80" width="5.0" height="5.0"/><rect x="346.40" y="128.90" width="5.0" height="5.0"/><rect x="359.00" y="127.60" width="5.0" height="5.0"/><rect x="371.50" y="126.70" width="5.0" height="5.0"/><rect x="384.10" y="124.50" width="5.0" height="5.0"/><rect x="397.70" y="120.60" width="5.0" height="5.0"/><rect x="410.30" y="124.30" width="5.0" height="5.0"/><rect x="423.70" y="119.20" width="5.0" height="5.0"/><rect x="436.30" y="120.10" width="5.0" height="5.0"/><rect x="449.90" y="115.30" width="5.0" height="5.0"/><rect x="462.10" y="114.60" width="5.0" height="5.0"/><rect x="475.60" y="115.90" width="5.0" height="5.0"/><rect x="488.70" y="106.80" width="5.0" height="5.0"/><rect x="502.50" y="111.10" width="5.0" height="5.0"/><rect x="515.40" y="103.70" width="5.0" height="5.0"/><rect x="528.90" y="105.10" width="5.0" height="5.0"/><rect x="541.50" y="100.90" width="5.0" height="5.0"/><rect x="554.70" y="98.70" width="5.0" height="5.0"/><rect x="566.70" y="95.30" width="5.0" height="5.0"/><rect x="578.90" y="95.90" width="5.0" height="5.0"/><rect x="591.70" y="96.60" width="5.0" height="5.0"/><rect x="603.10" y="94.10" width="5.0" height="5.0"/>
<rect x="83.90" y="375.90" width="5.0" height="5.0"/><rect x="97.80" y="365.00" width="5.0" height="5.0"/><rect x="111.30" y="358.00" width="5.0" height="5.0"/><rect x="124.90" y="353.50" width="5.0" height="5.0"/><rect x="138.40" y="349.50" width="5.0" height="5.0"/><rect x="151.50" y="346.90" width="5.0" height="5.0"/><rect x="164.80" y="345.20" width="5.0" height="5.0"/><rect x="178.10" y="343.20" width="5.0" height="5.0"/><rect x="191.60" y="341.60" width="5.0" height="5.0"/><rect x="205.00" y="340.20" width="5.0" height="5.0"/><rect x="218.10" y="338.90" width="5.0" height="5.0"/><rect x="230.70" y="338.90" width="5.0" height="5.0"/><rect x="243.30" y="338.40" width="5.0" height="5.0"/><rect x="255.60" y="336.30" width="5.0" height="5.0"/><rect x="267.30" y="335.60" width="5.0" height="5.0"/><rect x="279.10" y="334.50" width="5.0" height="5.0"/><rect x="291.30" y="334.30" width="5.0" height="5.0"/><rect x="303.50" y="333.80" width="5.0" height="5.0"/><rect x="315.40" y="333.00" width="5.0" height="5.0"/><rect x="327.40" y="332.10" width="5.0" height="5.0"/><rect x="340.10" y="330.80" width="5.0" height="5.0"/><rect x="352.30" y="330.80" width="5.0" height="5.0"/><rect x="365.30" y="329.30" width="5.0" height="5.0"/><rect x="377.30" y="328.50" width="5.0" height="5.0"/><rect x="389.40" y="328.20" width="5.0" height="5.0"/><rect x="402.20" y="326.90" width="5.0" height="5.0"/><rect x="414.60" y="326.00" width="5.0" height="5.0"/><rect x="428.30" y="324.40" width="5.0" height="5.0"/><rect x="441.70" y="322.70" width="5.0" height="5.0"/><rect x="454.00" y="323.40" width="5.0" height="5.0"/><rect x="467.00" y="321.60" width="5.0" height="5.0"/><rect x="477.50" y="320.70" width="5.0" height="5.0"/><rect x="484.60" y="318.70" width="5.0" height="5.0"/><rect x="495.30" y="320.10" width="5.0" height="5.0"/><rect x="518.60" y="318.00" width="5.0" height="5.0"/><rect x="533.00" y="317.30" width="5.0" height="5.0"/><rect x="546.70" y="318.10" width="5.0" height="5.0"/><rect x="559.50" y="315.70" width="5.0" height="5.0"/><rect x="570.30" y="315.00" width="5.0" height="5.0"/><rect x="580.80" y="314.20" width="5.0" height="5.0"/><rect x="592.50" y="313.70" width="5.0" height="5.0"/><rect x="606.10" y="312.40" width="5.0" height="5.0"/>
<path d="M87.00 389.80L90.10 395.40L83.90 395.40Z"/><path d="M100.50 383.40L103.60 389.00L97.40 389.00Z"/><path d="M114.00 379.50L117.10 385.10L110.90 385.10Z"/><path d="M127.40 376.90L130.50 382.50L124.30 382.50Z"/><path d="M140.90 375.10L144.00 380.70L137.80 380.70Z"/><path d="M154.00 373.80L157.10 379.40L150.90 379.40Z"/><path d="M167.30 372.70L170.40 378.30L164.20 378.30Z"/><path d="M180.80 371.60L183.90 377.20L177.70 377.20Z"/><path d="M194.40 371.30L197.50 376.90L191.30 376.90Z"/><path d="M207.50 370.60L210.60 376.20L204.40 376.20Z"/><path d="M220.60 370.10L223.70 375.70L217.50 375.70Z"/><path d="M233.60 369.70L236.70 375.30L230.50 375.30Z"/><path d="M246.50 369.70L249.60 375.30L243.40 375.30Z"/><path d="M258.50 369.00L261.60 374.60L255.40 374.60Z"/><path d="M270.30 369.00L273.40 374.60L267.20 374.60Z"/><path d="M282.30 368.40L285.40 374.00L279.20 374.00Z"/><path d="M294.90 368.80L298.00 374.40L291.80 374.40Z"/><path d="M307.70 368.20L310.80 373.80L304.60 373.80Z"/><path d="M320.70 367.70L323.80 373.30L317.60 373.30Z"/><path d="M333.20 366.70L336.30 372.30L330.10 372.30Z"/><path d="M345.80 366.70L348.90 372.30L342.70 372.30Z"/><path d="M358.50 366.20L361.60 371.80L355.40 371.80Z"/><path d="M371.10 366.20L374.20 371.80L368.00 371.80Z"/><path d="M384.40 365.30L387.50 370.90L381.30 370.90Z"/><path d="M397.50 364.90L400.60 370.50L394.40 370.50Z"/><path d="M411.10 364.10L414.20 369.70L408.00 369.70Z"/><path d="M424.40 364.10L427.50 369.70L421.30 369.70Z"/><path d="M437.30 363.90L440.40 369.50L434.20 369.50Z"/><path d="M450.60 363.60L453.70 369.20L447.50 369.20Z"/><path d="M463.50 362.60L466.60 368.20L460.40 368.20Z"/><path d="M476.10 363.20L479.20 368.80L473.00 368.80Z"/><path d="M488.60 362.60L491.70 368.20L485.50 368.20Z"/><path d="M501.00 362.30L504.10 367.90L497.90 367.90Z"/><path d="M513.60 362.50L516.70 368.10L510.50 368.10Z"/><path d="M526.50 361.10L529.60 366.70L523.40 366.70Z"/><path d="M539.90 361.10L543.00 366.70L536.80 366.70Z"/><path d="M553.40 359.60L556.50 365.20L550.30 365.20Z"/><path d="M566.30 358.70L569.40 364.30L563.20 364.30Z"/><path d="M578.30 358.90L581.40 364.50L575.20 364.50Z"/><path d="M591.20 359.30L594.30 364.90L588.10 364.90Z"/><path d="M604.50 360.20L607.60 365.80L601.40 365.80Z"/>
<rect x="84.50" y="404.40" width="5.0" height="5.0"/><rect x="98.30" y="400.00" width="5.0" height="5.0"/><rect x="111.60" y="395.90" width="5.0" height="5.0"/><rect x="125.30" y="392.80" width="5.0" height="5.0"/><rect x="138.40" y="390.00" width="5.0" height="5.0"/><rect x="151.50" y="387.20" width="5.0" height="5.0"/><rect x="164.80" y="385.00" width="5.0" height="5.0"/><rect x="177.20" y="383.00" width="5.0" height="5.0"/><rect x="189.60" y="381.20" width="5.0" height="5.0"/><rect x="201.50" y="379.30" width="5.0" height="5.0"/><rect x="213.50" y="377.80" width="5.0" height="5.0"/><rect x="225.50" y="375.40" width="5.0" height="5.0"/><rect x="237.50" y="373.70" width="5.0" height="5.0"/><rect x="250.30" y="372.60" width="5.0" height="5.0"/><rect x="262.50" y="370.80" width="5.0" height="5.0"/><rect x="273.50" y="368.20" width="5.0" height="5.0"/><rect x="285.30" y="367.60" width="5.0" height="5.0"/><rect x="298.00" y="365.00" width="5.0" height="5.0"/><rect x="309.50" y="363.20" width="5.0" height="5.0"/><rect x="321.50" y="361.90" width="5.0" height="5.0"/><rect x="334.10" y="359.90" width="5.0" height="5.0"/><rect x="346.40" y="358.60" width="5.0" height="5.0"/><rect x="358.60" y="357.10" width="5.0" height="5.0"/><rect x="370.80" y="354.90" width="5.0" height="5.0"/><rect x="382.80" y="353.60" width="5.0" height="5.0"/><rect x="392.60" y="351.70" width="5.0" height="5.0"/><rect x="398.10" y="350.30" width="5.0" height="5.0"/><rect x="407.80" y="348.70" width="5.0" height="5.0"/><rect x="418.00" y="347.60" width="5.0" height="5.0"/><rect x="441.90" y="345.80" width="5.0" height="5.0"/><rect x="460.20" y="343.10" width="5.0" height="5.0"/><rect x="474.50" y="341.80" width="5.0" height="5.0"/><rect x="487.90" y="340.10" width="5.0" height="5.0"/><rect x="501.20" y="338.80" width="5.0" height="5.0"/><rect x="512.60" y="337.00" width="5.0" height="5.0"/><rect x="518.20" y="335.00" width="5.0" height="5.0"/><rect x="526.70" y="334.80" width="5.0" height="5.0"/><rect x="537.00" y="332.20" width="5.0" height="5.0"/><rect x="548.40" y="331.10" width="5.0" height="5.0"/><rect x="561.00" y="330.40" width="5.0" height="5.0"/><rect x="574.30" y="328.40" width="5.0" height="5.0"/><rect x="596.30" y="327.80" width="5.0" height="5.0"/>
<rect x="83.90" y="413.70" width="5.0" height="5.0"/><rect x="97.80" y="412.20" width="5.0" height="5.0"/><rect x="111.30" y="411.10" width="5.0" height="5.0"/><rect x="124.90" y="409.80" width="5.0" height="5.0"/><rect x="138.40" y="409.20" width="5.0" height="5.0"/><rect x="151.50" y="408.70" width="5.0" height="5.0"/><rect x="164.80" y="407.80" width="5.0" height="5.0"/><rect x="178.10" y="407.80" width="5.0" height="5.0"/><rect x="191.60" y="407.00" width="5.0" height="5.0"/><rect x="205.00" y="406.20" width="5.0" height="5.0"/><rect x="215.20" y="406.50" width="5.0" height="5.0"/><rect x="230.80" y="405.80" width="5.0" height="5.0"/><rect x="243.30" y="405.70" width="5.0" height="5.0"/><rect x="255.80" y="405.70" width="5.0" height="5.0"/><rect x="267.80" y="404.90" width="5.0" height="5.0"/><rect x="282.90" y="403.90" width="5.0" height="5.0"/><rect x="292.40" y="404.60" width="5.0" height="5.0"/><rect x="303.90" y="403.80" width="5.0" height="5.0"/><rect x="316.00" y="402.70" width="5.0" height="5.0"/><rect x="327.40" y="402.70" width="5.0" height="5.0"/><rect x="340.00" y="402.20" width="5.0" height="5.0"/><rect x="352.00" y="401.80" width="5.0" height="5.0"/><rect x="365.30" y="401.20" width="5.0" height="5.0"/><rect x="376.50" y="400.90" width="5.0" height="5.0"/><rect x="387.40" y="400.30" width="5.0" height="5.0"/><rect x="398.10" y="399.80" width="5.0" height="5.0"/><rect x="410.20" y="399.40" width="5.0" height="5.0"/><rect x="423.70" y="399.00" width="5.0" height="5.0"/><rect x="435.70" y="398.50" width="5.0" height="5.0"/><rect x="449.00" y="397.90" width="5.0" height="5.0"/><rect x="460.70" y="395.30" width="5.0" height="5.0"/><rect x="463.80" y="397.20" width="5.0" height="5.0"/><rect x="473.40" y="395.30" width="5.0" height="5.0"/><rect x="485.60" y="395.70" width="5.0" height="5.0"/><rect x="508.20" y="397.50" width="5.0" height="5.0"/><rect x="525.90" y="396.90" width="5.0" height="5.0"/><rect x="542.60" y="394.00" width="5.0" height="5.0"/><rect x="552.40" y="396.20" width="5.0" height="5.0"/><rect x="568.40" y="394.80" width="5.0" height="5.0"/><rect x="575.40" y="394.00" width="5.0" height="5.0"/><rect x="588.70" y="394.00" width="5.0" height="5.0"/><rect x="599.30" y="394.00" width="5.0" height="5.0"/><rect x="607.60" y="395.30" width="5.0" height="5.0"/>
</g>
<g stroke="#1a1a1a" stroke-width="1.6" fill="none" stroke-linecap="butt">
<path d="M73.2 25.8V424.6" stroke="#222" stroke-width="1.6"/>
<path d="M72.4 26.6H613.6" stroke="#1a1a1a" stroke-width="1.6"/>
<path d="M72.4 423.5H613.6" stroke="#1e1e1e" stroke-width="2.2"/>
<path d="M612.6 25.8V424.6" stroke="#404040" stroke-width="2.0"/>
<path d="M64.2 423.5H73.2M604.6 423.5H612.6M68.2 397.0H73.2M607.6 397.0H612.6M64.2 370.6H73.2M604.6 370.6H612.6M68.2 344.1H73.2M607.6 344.1H612.6M64.2 317.7H73.2M604.6 317.7H612.6M68.2 291.2H73.2M607.6 291.2H612.6M64.2 264.8H73.2M604.6 264.8H612.6M68.2 238.3H73.2M607.6 238.3H612.6M64.2 211.8H73.2M604.6 211.8H612.6M68.2 185.4H73.2M607.6 185.4H612.6M64.2 158.9H73.2M604.6 158.9H612.6M68.2 132.5H73.2M607.6 132.5H612.6M64.2 106.0H73.2M604.6 106.0H612.6M68.2 79.6H73.2M607.6 79.6H612.6M64.2 53.1H73.2M604.6 53.1H612.6M68.2 26.6H73.2M607.6 26.6H612.6M73.2 423.5V432.0M140.6 423.5V428.0M208.1 423.5V432.0M275.5 423.5V428.0M342.9 423.5V432.0M410.3 423.5V428.0M477.8 423.5V432.0M545.2 423.5V428.0M612.6 423.5V432.0M73.2 26.6V35.6M106.9 26.6V31.6M140.6 26.6V35.6M174.3 26.6V31.6M208.1 26.6V35.6M241.8 26.6V31.6M275.5 26.6V35.6M309.2 26.6V31.6M342.9 26.6V35.6M376.6 26.6V31.6M410.3 26.6V35.6M444.0 26.6V31.6M477.8 26.6V35.6M511.5 26.6V31.6M545.2 26.6V35.6M578.9 26.6V31.6M612.6 26.6V35.6"/>
</g>
<g font-size="16">
<text x="60" y="428.1" text-anchor="end">0.0</text>
<text x="621" y="428.1">0.0</text>
<text x="60" y="375.2" text-anchor="end">0.1</text>
<text x="621" y="375.2">0.1</text>
<text x="60" y="322.3" text-anchor="end">0.2</text>
<text x="621" y="322.3">0.2</text>
<text x="60" y="269.4" text-anchor="end">0.3</text>
<text x="621" y="269.4">0.3</text>
<text x="60" y="216.4" text-anchor="end">0.4</text>
<text x="621" y="216.4">0.4</text>
<text x="60" y="163.5" text-anchor="end">0.5</text>
<text x="621" y="163.5">0.5</text>
<text x="60" y="110.6" text-anchor="end">0.6</text>
<text x="621" y="110.6">0.6</text>
<text x="60" y="57.7" text-anchor="end">0.7</text>
<text x="621" y="57.7">0.7</text>
<text x="73.2" y="449.7" text-anchor="middle">0</text>
<text x="208.1" y="449.7" text-anchor="middle">50</text>
<text x="342.9" y="449.7" text-anchor="middle">100</text>
<text x="477.8" y="449.7" text-anchor="middle">150</text>
<text x="612.6" y="449.7" text-anchor="middle">200</text>
<text x="73.2" y="19.3" text-anchor="middle">0</text>
<text x="140.6" y="19.3" text-anchor="middle">25</text>
<text x="208.1" y="19.3" text-anchor="middle">50</text>
<text x="275.5" y="19.3" text-anchor="middle">75</text>
<text x="342.9" y="19.3" text-anchor="middle">100</text>
<text x="410.3" y="19.3" text-anchor="middle">125</text>
<text x="477.8" y="19.3" text-anchor="middle">150</text>
<text x="545.2" y="19.3" text-anchor="middle">175</text>
<text x="612.6" y="19.3" text-anchor="middle">200</text>
</g>
<text x="342.5" y="475.8" font-size="20" text-anchor="middle">T (K)</text>
<text transform="translate(23.1 224.2) rotate(-90)" x="0" y="0" font-size="19.7" text-anchor="middle">X*T (cm^3*K/mol)</text>
<g font-size="20">
<text x="548" y="90.6">CAC</text>
<text x="541" y="310.5">CAOS</text>
<text x="279.4" y="355.2">CADBS</text>
<text x="539.5" y="356.6">CAOBS</text>
<text x="540" y="391.2">CAC18</text>
</g>
<path d="M461.7 137.6V270.2H596.2V137.6" fill="none" stroke="#333" stroke-width="1.5"/>
<path d="M461.0 137.6H596.9" fill="none" stroke="#8a8a8a" stroke-width="2.6"/>
<g fill="none">
<path d="M470 155.7H484M499.3 155.7H514.5" stroke="#9a9a9a" stroke-width="1.4"/>
<path d="M470 179.5H484M499.3 179.5H514.5" stroke="#8a8a8a" stroke-width="1.3"/>
<path d="M470 203.4H484M499.3 203.4H514.5" stroke="#aaaaaa" stroke-width="2.0"/>
<path d="M470 228.0H484M499.3 228.0H514.5" stroke="#5a5a5a" stroke-width="1.2"/>
<path d="M470 252.0H484M499.3 252.0H514.5" stroke="#5a5a5a" stroke-width="1.2"/>
</g><g fill="#000">
<rect x="489.2" y="153.3" width="4.8" height="4.8"/>
<rect x="489.2" y="177.1" width="4.8" height="4.8"/>
<path d="M491.6 199.8L495.0 205.7L488.3 205.7Z"/>
<rect x="489.2" y="225.6" width="4.8" height="4.8"/>
<rect x="489.2" y="249.6" width="4.8" height="4.8"/>
</g><g font-size="20">
<text x="519" y="162.3">CAC18</text>
<text x="519" y="186.1">CADBS</text>
<text x="519" y="210.0">CAOBS</text>
<text x="519" y="234.6">CAOS</text>
<text x="519" y="258.6">CAC</text>
</g>
</svg></body></html>
